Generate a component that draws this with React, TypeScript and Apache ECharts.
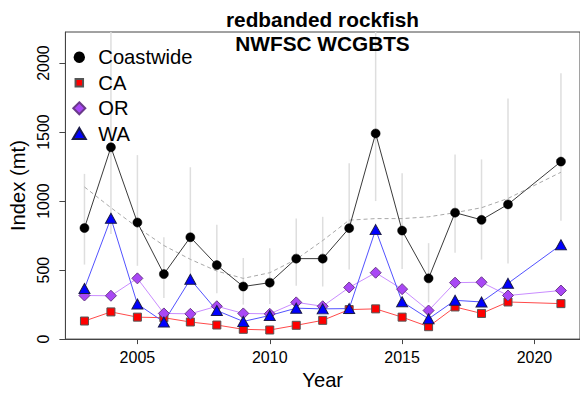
import React, { useEffect, useRef } from 'react';
import * as echarts from 'echarts';

const FONT = '"Liberation Sans", Arial, Helvetica, sans-serif';

const years = [2003, 2004, 2005, 2006, 2007, 2008, 2009, 2010, 2011, 2012, 2013, 2014, 2015, 2016, 2017, 2018, 2019, 2021];
const coastwide = [805, 1390, 845, 471, 738, 536, 381, 409, 583, 583, 804, 1490, 786, 440, 916, 864, 976, 1286];
const ca = [131, 197, 159, 155, 124, 102, 71, 66, 100, 136, 214, 219, 159, 90, 233, 186, 269, 257];
const or = [316, 314, 440, 186, 183, 238, 186, 183, 266, 238, 374, 481, 362, 207, 409, 412, 316, 352];
const wa = [366, 876, 254, 124, 433, 207, 128, 171, 224, 219, 221, 793, 271, 147, 281, 269, 404, 683];
const lower = [540, 761, 531, 297, 440, 333, 250, 254, 386, 381, 504, 1000, 507, 266, 626, 576, 547, 857];
const upper = [1197, 2240, 1333, 738, 1245, 829, 588, 659, 873, 886, 1274, 2230, 1202, 695, 1338, 1302, 1743, 1926];
const trend = [1102, 952, 809, 678, 578, 493, 440, 481, 578, 714, 862, 873, 873, 886, 916, 952, 1019, 1209];

const xTicks = [2005, 2010, 2015, 2020];
const yTicks = [0, 500, 1000, 1500, 2000];

const pairs = (vals: number[]) => years.map((y, i) => [y, vals[i]]);

export default function App() {
  const ref = useRef<HTMLDivElement>(null);
  useEffect(() => {
    const chart = echarts.init(ref.current!, null, { renderer: 'svg' });
    const legendItem = (name: string, icon: string, w: number, h: number, cy: number, textLeft: number) => {
      const left = 78.3 - w / 2;
      const pad = textLeft - (left + w + 5);
      return {
        data: [{ name, icon }],
        orient: 'vertical',
        left,
        top: cy - 11,
        itemWidth: w,
        itemHeight: h,
        padding: 0,
        selectedMode: false,
        formatter: '{t|{name}}',
        textStyle: {
          fontSize: 20.2,
          lineHeight: 22,
          color: '#000',
          fontFamily: FONT,
          rich: { t: { fontSize: 20.2, lineHeight: 22, color: '#000', fontFamily: FONT, padding: [0, 0, 0, pad] } },
        },
      };
    };
    const option: any = {
      animation: false,
      backgroundColor: '#fff',
      graphic: [
        {
          type: 'text',
          x: 322.5,
          y: 7,
          style: {
            text: 'redbanded rockfish\nNWFSC WCGBTS',
            textAlign: 'center',
            textVerticalAlign: 'top',
            fontSize: 20.8,
            fontWeight: 'bold',
            fontFamily: FONT,
            lineHeight: 24,
            fill: '#000',
          },
          z: 100,
        },
      ],
      legend: [
        legendItem('Coastwide', 'circle', 9.5, 9.5, 57.3, 97.3),
        legendItem('CA', 'rect', 7.5, 7.5, 82.7, 97.3),
        legendItem('OR', 'diamond', 12, 12, 108.3, 97.3),
        legendItem('WA', 'triangle', 13, 11, 133.5, 97.3),
      ],
      grid: {
        left: 58.9,
        top: 32,
        width: 527.6,
        height: 311.3,
        show: true,
        borderColor: '#444',
        borderWidth: 1,
        backgroundColor: 'transparent',
      },
      xAxis: {
        type: 'value',
        min: 2002.28,
        max: 2021.72,
        name: 'Year',
        nameLocation: 'middle',
        nameGap: 26,
        nameTextStyle: { fontSize: 20.2, color: '#000', fontFamily: FONT },
        axisLine: { show: true, lineStyle: { color: '#444', width: 1 } },
        axisTick: { show: true, length: 5, customValues: xTicks, lineStyle: { color: '#444' } },
        axisLabel: {
          customValues: xTicks,
          margin: 10,
          fontSize: 16,
          color: '#000',
          fontFamily: FONT,
          formatter: (v: number) => String(v),
        },
        splitLine: { show: false },
      },
      yAxis: {
        type: 'value',
        min: 0,
        max: 2225,
        name: 'Index (mt)',
        nameLocation: 'middle',
        nameGap: 29,
        nameTextStyle: { fontSize: 20.2, color: '#000', fontFamily: FONT },
        axisLine: { show: true, lineStyle: { color: '#444', width: 1 } },
        axisTick: { show: true, length: 6, customValues: yTicks, lineStyle: { color: '#444' } },
        axisLabel: {
          customValues: yTicks,
          rotate: 90,
          margin: 13.5,
          fontSize: 16,
          color: '#000',
          fontFamily: FONT,
          formatter: (v: number) => String(v),
        },
        splitLine: { show: false },
      },
      series: [
        {
          type: 'custom',
          name: 'ci',
          clip: true,
          data: years.map((y, i) => [y, lower[i], upper[i]]),
          encode: { x: 0, y: [1, 2] },
          renderItem: (params: any, api: any) => {
            const x = api.value(0);
            const a = api.coord([x, api.value(1)]);
            const b = api.coord([x, api.value(2)]);
            return {
              type: 'line',
              shape: { x1: a[0], y1: a[1], x2: b[0], y2: b[1] },
              style: { stroke: '#dedede', lineWidth: 1.5 },
            };
          },
          z: 1,
        },
        {
          type: 'line',
          name: 'trend',
          data: pairs(trend),
          symbol: 'none',
          lineStyle: { color: '#a8a8a8', width: 1, type: [4, 3] },
          z: 2,
        },
        {
          type: 'line',
          name: 'Coastwide',
          data: pairs(coastwide),
          symbol: 'circle',
          symbolSize: 9,
          lineStyle: { color: '#3a3a3a', width: 1 },
          itemStyle: { color: '#000', borderColor: '#000', borderWidth: 0.5 },
          z: 3,
        },
        {
          type: 'line',
          name: 'CA',
          data: pairs(ca),
          symbol: 'rect',
          symbolSize: 8,
          lineStyle: { color: '#ff4a4a', width: 1 },
          itemStyle: { color: '#ff0000', borderColor: '#555', borderWidth: 1 },
          z: 3,
        },
        {
          type: 'line',
          name: 'OR',
          data: pairs(or),
          symbol: 'diamond',
          symbolSize: 11,
          lineStyle: { color: '#c98cff', width: 1 },
          itemStyle: { color: '#a947f5', borderColor: '#6a3a8a', borderWidth: 1 },
          z: 3,
        },
        {
          type: 'line',
          name: 'WA',
          data: pairs(wa),
          symbol: 'triangle',
          symbolSize: [11, 10],
          lineStyle: { color: '#5252ff', width: 1 },
          itemStyle: { color: '#0000ff', borderColor: '#1a1a4a', borderWidth: 1 },
          z: 3,
        },
      ],
    };
    chart.setOption(option);
    return () => chart.dispose();
  }, []);
  return <div ref={ref} style={{ position: 'absolute', left: 0, top: 0, width: 580, height: 395 }} />;
}
